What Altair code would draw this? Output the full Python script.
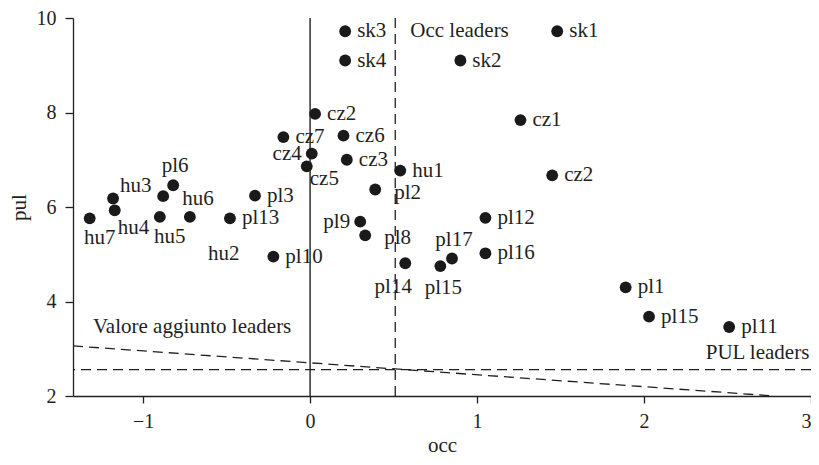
import altair as alt
import pandas as pd

# ---- data ----
names = ["sk3", "sk4", "sk1", "sk2", "cz2", "cz7", "cz6", "cz4", "cz5", "cz3",
         "hu1", "pl2", "cz1", "cz2", "pl6", "hu3", "hu6", "pl3", "hu7", "hu4",
         "hu5", "hu2", "pl13", "pl10", "pl9", "pl8", "pl14", "pl15", "pl17",
         "pl12", "pl16", "pl1", "pl15", "pl11"]
occ = [0.21, 0.21, 1.48, 0.90, 0.03, -0.16, 0.20, 0.01, -0.02, 0.22,
       0.54, 0.39, 1.26, 1.45, -0.82, -1.18, -0.88, -0.33, -1.32, -1.17,
       -0.90, -0.72, -0.48, -0.22, 0.30, 0.33, 0.57, 0.78, 0.85,
       1.05, 1.05, 1.89, 2.03, 2.51]
pul = [9.72, 9.10, 9.72, 9.10, 7.97, 7.48, 7.51, 7.13, 6.86, 7.00,
       6.77, 6.37, 7.84, 6.67, 6.46, 6.18, 6.23, 6.24, 5.76, 5.93,
       5.79, 5.79, 5.76, 4.95, 5.69, 5.40, 4.81, 4.75, 4.91,
       5.77, 5.02, 4.30, 3.68, 3.46]
placement = ["r", "r", "r", "r", "r", "r", "r", "l", "bs", "r",
             "r", "r2", "r", "r", "a", "ar", "r2", "r", "b", "br",
             "b", "bfar", "r", "r", "l", "r2", "bl", "bc", "a",
             "r", "r", "r", "r", "r"]

# threshold lines
occ_threshold = [0.51]
pul_threshold = [2.56]
zero_line = [0.0]
va_x = [-1.42, 2.78]
va_y = [3.06, 2.0]

# annotations
ann_text = ["Occ leaders", "Valore aggiunto leaders", "PUL leaders"]
ann_x = [0.60, -1.30, 2.99]
ann_y = [9.72, 3.47, 2.91]
ann_align = ["left", "left", "right"]

x_ticks = [-1, 0, 1, 2, 3]
y_ticks = [2, 4, 6, 8, 10]

# ---- styles ----
FONT = "Liberation Serif"
INK = "#231f20"
DOT = "#1a1a1a"
DASH = [10, 6]

label_styles = {
    "r": dict(align="left", baseline="middle", dx=12, dy=0),
    "r2": dict(align="left", baseline="middle", dx=19, dy=3),
    "l": dict(align="right", baseline="middle", dx=-10, dy=0),
    "a": dict(align="center", baseline="alphabetic", dx=2, dy=-13),
    "ar": dict(align="left", baseline="alphabetic", dx=7, dy=-6),
    "b": dict(align="center", baseline="alphabetic", dx=10, dy=26),
    "br": dict(align="left", baseline="alphabetic", dx=3, dy=24),
    "bs": dict(align="left", baseline="alphabetic", dx=3, dy=19),
    "bc": dict(align="center", baseline="alphabetic", dx=3, dy=28),
    "bl": dict(align="center", baseline="alphabetic", dx=-12, dy=30),
    "bfar": dict(align="left", baseline="alphabetic", dx=18, dy=43),
}

pts = pd.DataFrame({"name": names, "occ": occ, "pul": pul, "pos": placement})

x_scale = alt.Scale(domain=[-1.42, 3], nice=False, zero=False)
y_scale = alt.Scale(domain=[2, 10], nice=False, zero=False)

x_axis = alt.Axis(values=x_ticks, grid=False, tickSize=7, tickWidth=1.3,
                  domainWidth=1.3, domainColor=INK, tickColor=INK,
                  labelFont=FONT, labelFontSize=20, labelColor=INK,
                  labelPadding=8, titleFont=FONT, titleFontSize=21,
                  titleFontWeight="normal", titleColor=INK,
                  titleY=55, titleBaseline="alphabetic")
y_axis = alt.Axis(values=y_ticks, grid=False, tickSize=8, tickWidth=1.3,
                  domainWidth=1.3, domainColor=INK, tickColor=INK,
                  labelFont=FONT, labelFontSize=20, labelColor=INK,
                  labelPadding=9, titleFont=FONT, titleFontSize=21,
                  titleFontWeight="normal", titleColor=INK,
                  titleX=-54, titleY=189, titleAngle=270,
                  titleAlign="center", titleBaseline="middle")

X = alt.X("occ:Q", scale=x_scale, axis=x_axis, title="occ")
Y = alt.Y("pul:Q", scale=y_scale, axis=y_axis, title="pul")

zero_rule = alt.Chart(pd.DataFrame({"occ": zero_line})).mark_rule(
    color=INK, strokeWidth=1.4).encode(x=X)
occ_rule = alt.Chart(pd.DataFrame({"occ": occ_threshold})).mark_rule(
    color=INK, strokeWidth=1.3, strokeDash=DASH).encode(x=X)
pul_rule = alt.Chart(pd.DataFrame({"pul": pul_threshold})).mark_rule(
    color=INK, strokeWidth=1.3, strokeDash=DASH).encode(y=Y)
va_line = alt.Chart(pd.DataFrame({"occ": va_x, "pul": va_y})).mark_line(
    color=INK, strokeWidth=1.3, strokeDash=DASH).encode(x=X, y=Y)

points = alt.Chart(pts).mark_circle(size=140, color=DOT, opacity=1).encode(x=X, y=Y)

text_layers = []
for key, st in label_styles.items():
    text_layers.append(
        alt.Chart(pts).transform_filter(alt.datum.pos == key).mark_text(
            font=FONT, fontSize=21, color=INK, **st
        ).encode(x=X, y=Y, text="name:N")
    )

ann_df = pd.DataFrame({"t": ann_text, "occ": ann_x, "pul": ann_y, "al": ann_align})
ann_layers = []
for al in ["left", "right"]:
    ann_layers.append(
        alt.Chart(ann_df).transform_filter(alt.datum.al == al).mark_text(
            font=FONT, fontSize=21, color=INK, align=al, baseline="middle"
        ).encode(x=X, y=Y, text="t:N")
    )

chart = alt.layer(zero_rule, occ_rule, pul_rule, va_line, points,
                  *text_layers, *ann_layers).properties(
    width=738, height=378,
    autosize=alt.AutoSizeParams(type="none"),
    padding={"left": 65, "top": 10, "right": 0, "bottom": 61},
).configure_view(stroke=None)

chart.save("out.html", embed_options={"renderer": "svg", "actions": False})
